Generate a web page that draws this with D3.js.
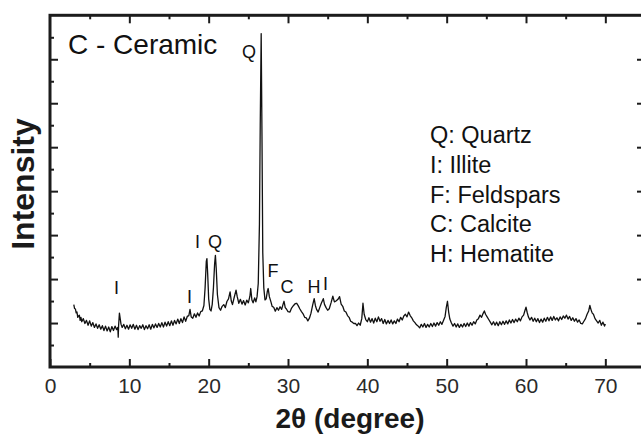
<!DOCTYPE html>
<html>
<head>
<meta charset="utf-8">
<script src="https://cdn.jsdelivr.net/npm/d3@7"></script>
<style>
  html, body { margin: 0; padding: 0; background: #fff; }
  svg { display: block; font-family: "Liberation Sans", Arial, Helvetica, sans-serif; }
</style>
</head>
<body>
<svg id="chart" width="641" height="434"></svg>
<script>
// XRD pattern of the ceramic sample (2θ in degrees, intensity in arbitrary units)
const twoTheta = [
  3.0,3.1,3.2,3.3,3.4,3.5,3.6,3.7,3.8,3.9,4.0,4.2,4.4,4.6,4.8,5.0,5.2,5.4,5.6,5.8,
  6.0,6.2,6.4,6.6,6.8,7.0,7.2,7.4,7.6,7.8,8.0,8.2,8.4,8.55,8.6,8.65,8.75,8.85,8.95,9.1,
  9.3,9.5,9.7,9.9,10.1,10.3,10.5,10.7,10.9,11.1,11.3,11.5,11.7,11.9,12.1,12.3,12.5,12.7,12.9,13.1,
  13.3,13.5,13.7,13.9,14.1,14.3,14.5,14.7,14.9,15.1,15.3,15.5,15.7,15.9,16.1,16.3,16.5,16.7,16.9,17.1,
  17.3,17.5,17.65,17.8,18.0,18.2,18.4,18.6,18.8,19.0,19.2,19.4,19.55,19.7,19.78,19.88,20.0,20.15,20.3,20.45,
  20.6,20.75,20.85,20.95,21.1,21.3,21.5,21.7,21.9,22.1,22.3,22.5,22.7,22.85,23.0,23.2,23.45,23.6,23.8,24.0,
  24.2,24.4,24.6,24.8,25.0,25.2,25.3,25.45,25.6,25.8,25.95,26.1,26.25,26.4,26.5,26.62,26.72,26.82,26.95,27.1,
  27.25,27.4,27.5,27.65,27.85,28.0,28.2,28.4,28.6,28.8,29.0,29.2,29.4,29.5,29.65,29.8,30.0,30.25,30.45,30.7,
  30.9,31.1,31.3,31.5,31.7,31.9,32.1,32.3,32.5,32.7,32.9,33.1,33.3,33.45,33.6,33.8,34.0,34.2,34.45,34.6,
  34.8,35.0,35.2,35.45,35.65,35.85,36.05,36.3,36.5,36.7,36.9,37.1,37.3,37.5,37.7,37.9,38.1,38.3,38.5,38.7,
  38.9,39.1,39.3,39.45,39.6,39.8,40.0,40.2,40.4,40.6,40.8,41.0,41.2,41.4,41.6,41.8,42.0,42.2,42.4,42.6,
  42.8,43.0,43.2,43.4,43.6,43.8,44.0,44.2,44.4,44.6,44.8,45.0,45.2,45.4,45.6,45.8,46.0,46.2,46.4,46.6,
  46.8,47.0,47.2,47.4,47.6,47.8,48.0,48.2,48.4,48.6,48.8,49.0,49.2,49.4,49.6,49.8,49.95,50.1,50.25,50.4,
  50.6,50.8,51.0,51.2,51.4,51.6,51.8,52.0,52.2,52.4,52.6,52.8,53.0,53.2,53.4,53.6,53.8,54.0,54.2,54.4,
  54.6,54.75,54.9,55.1,55.3,55.5,55.7,55.9,56.1,56.3,56.5,56.7,56.9,57.1,57.3,57.5,57.7,57.9,58.1,58.3,
  58.5,58.7,58.9,59.1,59.3,59.5,59.7,59.85,60.0,60.15,60.3,60.5,60.7,60.9,61.1,61.3,61.5,61.7,61.9,62.1,
  62.3,62.5,62.7,62.9,63.1,63.3,63.5,63.7,63.9,64.1,64.3,64.5,64.7,64.9,65.1,65.3,65.5,65.7,65.9,66.1,
  66.3,66.5,66.7,66.9,67.1,67.3,67.5,67.7,67.9,68.05,68.2,68.35,68.5,68.7,68.9,69.1,69.3,69.5,69.7,69.9,
  70.0
];
const intensity = [
  2.84,2.66,2.64,2.46,2.50,2.26,2.32,2.36,2.12,2.26,2.06,2.20,1.98,2.12,1.90,2.10,1.86,2.02,1.80,1.96,
  1.76,1.92,1.72,1.88,1.66,1.86,1.64,1.82,1.60,1.84,1.66,1.86,1.70,1.80,1.36,1.90,2.45,2.20,1.95,1.80,
  1.94,1.74,1.90,1.72,1.92,1.76,1.94,1.72,1.90,1.70,1.88,1.76,1.92,1.70,1.88,1.74,1.92,1.72,1.94,1.78,
  1.96,1.80,1.98,1.82,2.02,1.82,2.04,1.86,2.06,1.88,2.10,1.90,2.12,1.96,2.18,1.98,2.20,2.02,2.28,2.08,
  2.30,2.34,2.62,2.28,2.22,2.42,2.26,2.46,2.32,2.52,2.55,2.80,3.60,4.80,4.93,4.20,3.10,2.62,2.55,2.85,
  3.60,4.70,5.08,4.50,3.30,2.70,2.58,2.76,2.84,2.70,2.98,3.10,3.42,3.00,2.84,3.14,3.50,3.20,2.90,3.08,
  2.86,3.02,2.82,3.04,2.92,3.22,3.57,3.05,2.92,3.14,2.96,3.20,3.80,6.50,11.0,15.17,10.5,5.20,3.60,3.05,
  3.10,3.45,3.57,3.20,2.96,2.76,2.72,2.54,2.70,2.58,2.74,2.62,2.88,2.99,2.70,2.64,2.52,2.50,2.68,2.80,
  2.88,2.90,2.78,2.64,2.52,2.42,2.26,2.24,2.10,2.22,2.45,2.80,3.11,2.80,2.62,2.50,2.70,2.90,3.11,2.85,
  2.70,2.58,2.65,2.95,3.22,2.96,3.00,3.08,3.20,2.86,2.76,2.55,2.50,2.34,2.26,2.08,2.04,1.98,1.98,1.88,
  2.00,1.90,2.20,2.90,2.40,2.16,2.06,2.24,2.04,2.20,2.00,2.22,2.06,2.28,2.08,2.20,1.98,2.16,1.96,2.12,
  1.98,2.14,1.96,2.10,1.98,2.18,2.06,2.26,2.14,2.32,2.40,2.28,2.50,2.34,2.24,2.10,2.02,1.92,1.86,1.78,
  1.94,1.82,1.98,1.80,1.94,1.82,1.98,1.84,2.00,1.86,2.02,1.90,2.06,1.94,2.12,2.30,2.70,2.99,2.50,2.18,
  2.00,1.86,1.98,1.82,1.96,1.80,1.94,1.82,1.98,1.84,2.00,1.86,2.02,1.90,2.06,1.96,2.14,2.20,2.36,2.26,
  2.44,2.55,2.40,2.28,2.16,2.04,1.92,2.06,1.90,2.04,1.88,2.06,1.92,2.08,1.94,2.10,1.96,2.14,2.00,2.16,
  2.02,2.18,2.06,2.22,2.10,2.28,2.36,2.55,2.72,2.48,2.28,2.14,2.26,2.08,2.22,2.06,2.20,2.02,2.18,2.04,
  2.22,2.08,2.26,2.10,2.28,2.12,2.30,2.14,2.24,2.10,2.28,2.16,2.32,2.22,2.36,2.18,2.30,2.12,2.24,2.08,
  2.20,2.04,2.14,1.98,1.96,2.08,2.20,2.40,2.55,2.80,2.60,2.45,2.40,2.20,2.10,2.00,2.12,1.90,2.04,1.86,
  1.96
];

// Phase labels placed above the peaks (anchor in 2θ / intensity units)
const peakLabels = ["I", "I", "I", "Q", "Q", "F", "C", "H", "I"];
const peakLabelAngles = [8.38, 17.58, 18.6, 20.8, 25.08, 28.11, 29.88, 33.28, 34.73];
const peakLabelLevels = [3.32, 2.93, 5.41, 5.41, 14.04, 4.11, 3.35, 3.38, 3.50];

// Phase key
const legendItems = ["Q: Quartz", "I: Illite", "F: Feldspars", "C: Calcite", "H: Hematite"];

// Axis ticks
const xMajorTicks = [0, 10, 20, 30, 40, 50, 60, 70];
const xMinorTicks = [5, 15, 25, 35, 45, 55, 65];
const yMajorTicks = [2, 4, 6, 8, 10, 12, 14];
const yMinorTicks = [1, 3, 5, 7, 9, 11, 13, 15];

const sampleTitle = "C - Ceramic";
const xTitle = "2θ (degree)";
const yTitle = "Intensity";

const svg = d3.select("#chart");
const plotLeft = 50, plotRight = 645, plotTop = 15.3, plotBottom = 367;

const x = d3.scaleLinear().domain([0, 75]).range([plotLeft, plotRight]);
const y = d3.scaleLinear().domain([0, 16]).range([plotBottom, plotTop]);

const axisColor = "#1c1c1c";

function styleAxis(g, width) {
  g.select(".domain").remove();
  g.selectAll(".tick line").attr("stroke", axisColor).attr("stroke-width", width);
}

// bottom axis with labels
svg.append("g")
  .attr("transform", `translate(0,${plotBottom})`)
  .call(d3.axisBottom(x).tickValues(xMajorTicks).tickSize(-8).tickPadding(11.5).tickFormat(d3.format("d")))
  .call(g => styleAxis(g, 2))
  .call(g => g.selectAll(".tick text")
    .attr("fill", "#2a2a2a")
    .style("font-size", "21px")
    .style("font-family", "'Liberation Sans', Arial, sans-serif"));
svg.append("g")
  .attr("transform", `translate(0,${plotBottom})`)
  .call(d3.axisBottom(x).tickValues(xMinorTicks).tickSize(-4).tickFormat(""))
  .call(g => styleAxis(g, 2));

// top axis
svg.append("g")
  .attr("transform", `translate(0,${plotTop})`)
  .call(d3.axisTop(x).tickValues(xMajorTicks.filter(d => d > 0)).tickSize(-8).tickFormat(""))
  .call(g => styleAxis(g, 2));
svg.append("g")
  .attr("transform", `translate(0,${plotTop})`)
  .call(d3.axisTop(x).tickValues(xMinorTicks).tickSize(-4).tickFormat(""))
  .call(g => styleAxis(g, 2));

// left axis
svg.append("g")
  .attr("transform", `translate(${plotLeft},0)`)
  .call(d3.axisLeft(y).tickValues(yMajorTicks).tickSize(-8).tickFormat(""))
  .call(g => styleAxis(g, 2));
svg.append("g")
  .attr("transform", `translate(${plotLeft},0)`)
  .call(d3.axisLeft(y).tickValues(yMinorTicks).tickSize(-4).tickFormat(""))
  .call(g => styleAxis(g, 2));

// right axis
svg.append("g")
  .attr("transform", `translate(${plotRight},0)`)
  .call(d3.axisRight(y).tickValues(yMajorTicks).tickSize(-8).tickFormat(""))
  .call(g => styleAxis(g, 2));
svg.append("g")
  .attr("transform", `translate(${plotRight},0)`)
  .call(d3.axisRight(y).tickValues(yMinorTicks).tickSize(-4).tickFormat(""))
  .call(g => styleAxis(g, 1.5))
  .call(g => g.selectAll(".tick line").attr("stroke", "#888"));

// frame
svg.append("rect")
  .attr("x", plotLeft).attr("y", plotTop)
  .attr("width", plotRight - plotLeft).attr("height", plotBottom - plotTop)
  .attr("fill", "none").attr("stroke", axisColor).attr("stroke-width", 3);

// diffraction pattern
const points = twoTheta.map((t, i) => [t, intensity[i]]);
svg.append("path")
  .datum(points)
  .attr("fill", "none")
  .attr("stroke", "#111")
  .attr("stroke-width", 1.3)
  .attr("stroke-linejoin", "round")
  .attr("d", d3.line().x(d => x(d[0])).y(d => y(d[1])));

// peak labels
svg.append("g").selectAll("text")
  .data(peakLabels)
  .join("text")
  .attr("x", (d, i) => x(peakLabelAngles[i]))
  .attr("y", (d, i) => y(peakLabelLevels[i]))
  .attr("text-anchor", "middle")
  .attr("fill", "#111")
  .style("font-size", "18px")
  .text(d => d);

// sample title
svg.append("text")
  .attr("x", 68).attr("y", 53.5)
  .attr("fill", "#111")
  .style("font-size", "28px")
  .text(sampleTitle);

// phase key
svg.append("g").selectAll("text")
  .data(legendItems)
  .join("text")
  .attr("x", 430)
  .attr("y", (d, i) => 143.3 + i * 29.6)
  .attr("fill", "#111")
  .style("font-size", "23.5px")
  .text(d => d);

// axis titles
svg.append("text")
  .attr("x", 350).attr("y", 428)
  .attr("text-anchor", "middle")
  .attr("fill", "#1a1a1a")
  .style("font-size", "28px")
  .style("font-weight", "bold")
  .text(xTitle);

svg.append("text")
  .attr("transform", "translate(34,184) rotate(-90)")
  .attr("text-anchor", "middle")
  .attr("fill", "#1a1a1a")
  .style("font-size", "32px")
  .style("font-weight", "bold")
  .text(yTitle);
</script>
</body>
</html>
